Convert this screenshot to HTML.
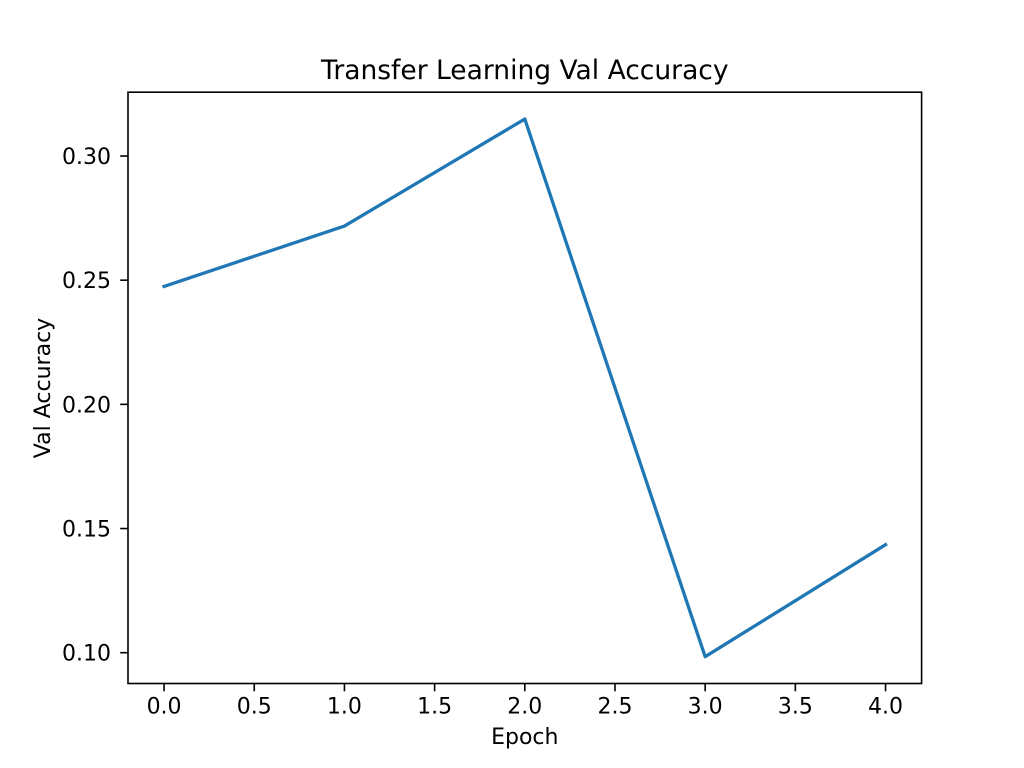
<!DOCTYPE html>
<html><head><meta charset="utf-8"><style>body{margin:0;background:#fff}svg{display:block;font-family:"DejaVu Sans","Liberation Sans",sans-serif}</style></head>
<body>
<svg id="c" width="1024" height="768"></svg>
<script>
const epochs=[0,1,2,3,4];
const valAcc=[0.2475,0.2718,0.3149,0.0984,0.1435];
const xTicks=[0,0.5,1,1.5,2,2.5,3,3.5,4];
const xTickLabels=["0.0","0.5","1.0","1.5","2.0","2.5","3.0","3.5","4.0"];
const yTicks=[0.10,0.15,0.20,0.25,0.30];
const yTickLabels=["0.10","0.15","0.20","0.25","0.30"];
const L=128,R=921.6,T=92.2,B=683.5;
const X=v=>L+(v+0.2)/4.4*(R-L);
const Y=v=>B+(v-0.0876)/(0.3257-0.0876)*(T-B);
const svg=document.getElementById('c');
const NS='http://www.w3.org/2000/svg';
function mk(t,a,txt){const e=document.createElementNS(NS,t);for(const k in a)e.setAttribute(k,a[k]);if(txt!==undefined)e.textContent=txt;svg.appendChild(e);return e;}
let e=mk('rect',{x:L,y:T,width:R-L,height:B-T,fill:'none',stroke:'#000','stroke-width':1.6});


xTicks.forEach((v,i)=>{
 let t=mk('line',{x1:X(v),x2:X(v),y1:B,y2:B+7.8,stroke:'#000','stroke-width':1.6});
 
 
 let l=mk('text',{x:X(v),y:B+30,'font-size':22,'text-anchor':'middle'},xTickLabels[i]);
 
 
});
yTicks.forEach((v,i)=>{
 let t=mk('line',{x1:L-7.8,x2:L,y1:Y(v),y2:Y(v),stroke:'#000','stroke-width':1.6});
 
 
 let l=mk('text',{x:L-17,y:Y(v)+8,'font-size':22,'text-anchor':'end'},yTickLabels[i]);
 
 
});
let p=mk('polyline',{points:epochs.map((x,i)=>X(x)+','+Y(valAcc[i])).join(' '),fill:'none',stroke:'#1f77b4','stroke-width':3.3,'stroke-linejoin':'round','stroke-linecap':'square'});


let tt=mk('text',{x:(L+R)/2,y:79,'font-size':26.5,'text-anchor':'middle'},'Transfer Learning Val Accuracy');


let xl=mk('text',{x:(L+R)/2,y:744,'font-size':22,'text-anchor':'middle'},'Epoch');


let yl=mk('text',{x:0,y:0,'font-size':22,'text-anchor':'middle',transform:'translate(50,388) rotate(-90)'},'Val Accuracy');


</script>
</body></html>
